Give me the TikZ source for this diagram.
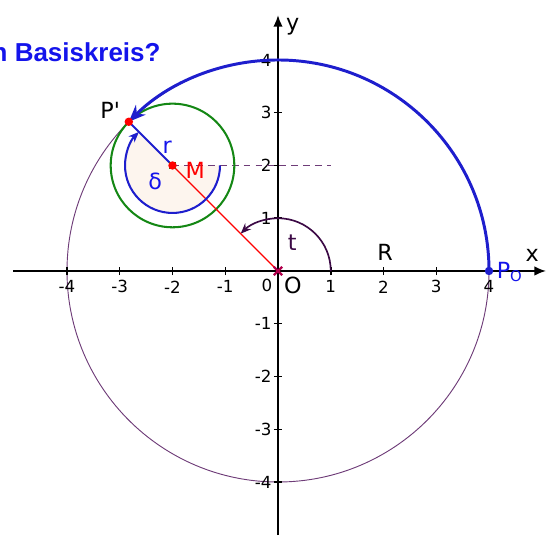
\documentclass[tikz,border=0pt]{standalone}
\usepackage{fontspec}
\setmainfont{DejaVu Sans}
\newfontfamily\titlefont{Liberation Sans}
\usetikzlibrary{positioning,arrows.meta,calc}
\definecolor{curveblue}{RGB}{30,30,205}
\definecolor{basepurple}{RGB}{110,60,120}
\definecolor{anglepurple}{RGB}{60,10,70}
\definecolor{rollgreen}{RGB}{20,135,20}
\definecolor{sectorfill}{RGB}{253,245,238}
\definecolor{labelblue}{RGB}{20,20,235}

\begin{document}
\begin{tikzpicture}[font=\fontsize{9}{11}\selectfont,
    axis/.style={line width=0.9pt, -{Latex[length=0.22cm,width=0.18cm]}},
    ticklabel/.style={inner sep=1pt},
    biglabel/.style={font=\fontsize{12}{14}\selectfont, inner sep=0pt}]
  \useasboundingbox (-5.27,-5.005) rectangle (5.08,5.137);
  \coordinate (O) at (0,0);
  \coordinate (M) at (-2,2);
  \coordinate (Pp) at (135:4);
  \coordinate (Po) at (4,0);
  % sector of delta
  \fill[sectorfill] (M) -- ++(0:0.9) arc[start angle=0, end angle=-225, radius=0.9] -- cycle;
  % base circle
  \draw[basepurple, line width=0.5pt] (O) circle[radius=4];
  % axes
  \draw[axis] (-5.02,0) -- (5.08,0);
  \draw[axis] (0,-5.005) -- (0,4.85);
  \foreach \x in {-4,-3,-2,-1,1,2,3,4} {
    \draw[line width=0.8pt] (\x,-0.08) -- (\x,0.08);
    \node[ticklabel] at (\x,-0.3) {\x};
  }
  \foreach \y in {-4,-3,-2,-1,1,2,3,4} {
    \draw[line width=0.8pt] (-0.08,\y) -- (0.08,\y);
    \node[ticklabel, anchor=east] at (-0.08,\y) {\y};
  }
  \node[ticklabel] at (-0.21,-0.28) {0};
  \node[biglabel] at (0.28,-0.28) {O};
  \node[biglabel] at (4.82,0.3) {x};
  \node[biglabel] at (0.28,4.63) {y};
  % dashed level of M
  \draw[basepurple, line width=0.6pt, dash pattern=on 3.6pt off 2.8pt] (M) -- (1,2);
  % rolling circle
  \draw[rollgreen, line width=1.1pt] (M) circle[radius={4-2*sqrt(2)}];
  % angle t
  \draw[anglepurple, line width=0.9pt, -{Stealth[length=0.2cm,width=0.16cm]}]
    (1,0) arc[start angle=0, end angle=135, radius=1];
  \node[biglabel, text=anglepurple] at (0.27,0.53) {t};
  \node[biglabel] at (2.03,0.36) {R};
  % radius O--M
  \draw[red, line width=0.6pt] (O) -- (M);
  % angle delta
  \draw[curveblue, line width=1.1pt, -{Stealth[length=0.2cm,width=0.16cm]}]
    (M) ++(0:0.9) arc[start angle=0, end angle=-225, radius=0.9];
  \draw[curveblue, line width=1.1pt] (M) -- (Pp);
  \node[biglabel, text=labelblue] at (-2.33,1.69) {δ};
  \node[biglabel, text=labelblue] at (-2.10,2.35) {r};
  % traced curve
  \draw[curveblue, line width=1.6pt, -{Stealth[length=0.32cm,width=0.26cm]}]
    (Po) arc[start angle=0, end angle=135, radius=4];
  % points
  \fill[rollgreen] ($(M)+(-0.06,-0.06)$) rectangle ($(M)+(0.06,0.06)$);
  \fill[red] (M) circle[radius=0.08];
  \fill[red] (Pp) circle[radius=0.08];
  \fill[curveblue] (Po) circle[radius=0.08];
  \draw[red!70!blue, line width=1.2pt] (-0.08,-0.08) -- (0.08,0.08) (-0.08,0.08) -- (0.08,-0.08);
  \node[biglabel, text=red] at (-1.57,1.91) {M};
  \node[biglabel] at (-3.18,3.05) {P\textquotesingle};
  \node[biglabel, text=labelblue, anchor=west] at (4.14,-0.02) {P\textsubscript{O}};
  % title
  \node[font=\titlefont\bfseries\fontsize{14}{17}\selectfont, text=labelblue, anchor=east, inner sep=0pt]
    at (-2.22,4.15) {n Basiskreis?};
\end{tikzpicture}
\end{document}
